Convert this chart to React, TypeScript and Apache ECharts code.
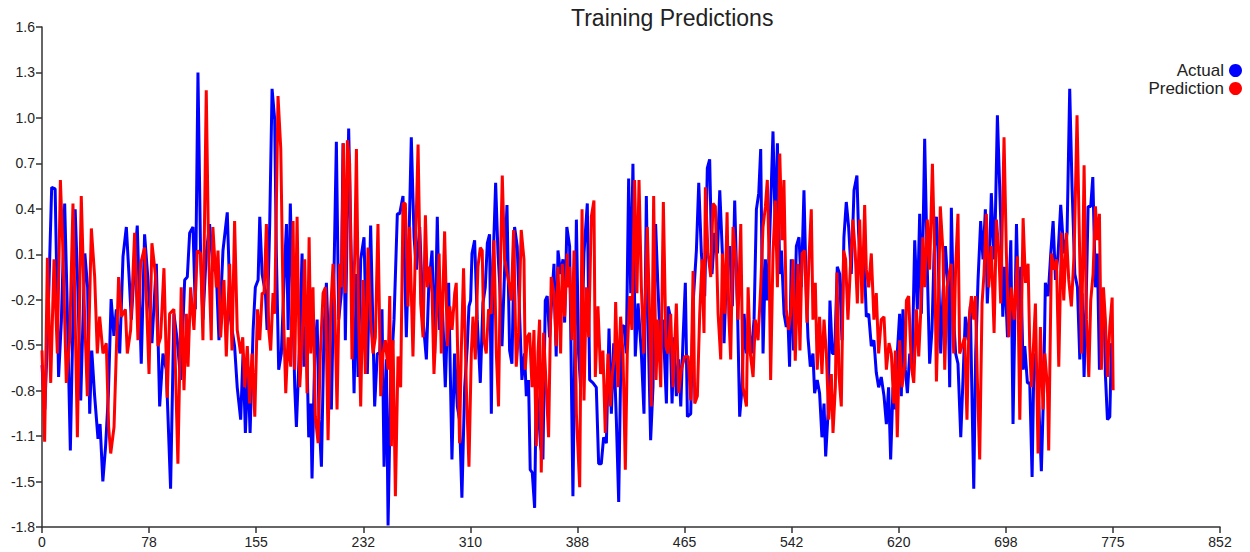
import { useEffect, useRef } from "react";
import * as echarts from "echarts";

const xTickLabels = ["0", "78", "155", "232", "310", "388", "465", "542", "620", "698", "775", "852"];
const yTickLabels = ["-1.8", "-1.5", "-1.1", "-0.8", "-0.5", "-0.2", "0.1", "0.4", "0.7", "1.0", "1.3", "1.6"];
const X_MIN = 0;
const X_MAX = 852;
const Y_MIN = -1.8;
const Y_MAX = 1.6;
const seriesNames = ["Actual", "Prediction"];

const actualPoints: [number, number][] = [
  [0, -0.7], [2, -1.0], [4, -0.5], [7, 0.51], [9.5, 0.5], [12, -0.78], [14, -0.4], [16.4, 0.4], [18, -0.2], [20.5, -1.28],
  [24, 0.36], [26, -0.2], [28, -0.94], [31, 0.06], [33, -0.17], [34.5, -1.03], [36, -0.6], [38, -0.9], [40.5, -1.2], [42, -1.1],
  [44, -1.49], [46, -1.25], [48, -0.9], [50, -0.25], [52, -0.5], [53.8, -0.32], [56.2, -0.62], [58.6, 0.04], [61, 0.24], [63, -0.1],
  [64.6, -0.39], [67, 0.0], [68.9, 0.25], [71.8, -0.69], [74.2, 0.19], [76.5, -0.1], [79.5, -0.55], [82.7, -0.01], [85.1, -0.98], [87.5, -0.62],
  [89.9, -0.73], [93, -1.54], [95.4, -0.35], [97.8, -0.53], [100.3, -0.8], [103.2, -0.12], [105.1, -0.1], [106.8, 0.2], [109.2, 0.24], [110.9, -0.32],
  [112.8, 1.29], [114.7, 0.06], [116.4, -0.39], [118.8, 0.06], [121.2, 0.26], [123.6, -0.03], [126.1, -0.08], [128, -0.53], [130.9, 0.08], [134, 0.34],
  [136.4, -0.39], [139.3, -0.57], [141.2, -0.85], [143.7, -1.07], [145.4, -0.62], [147.1, -1.16], [149, -0.71], [150.5, -1.16], [152.7, -0.46], [154.3, -0.17],
  [156.3, -0.12], [157.5, 0.31], [159.2, -0.08], [161.6, -0.21], [162.8, -0.46], [164.7, 0.26], [166.4, 1.18], [168.3, 0.97], [169.5, 0.06], [171.2, -0.73],
  [173.1, -0.62], [175.1, -0.12], [176.8, 0.26], [178, -0.46], [179.6, 0.4], [181.1, -0.17], [182.8, -0.85], [184, -1.12], [186.4, -0.53], [188.1, 0.06],
  [189.5, -0.71], [191.2, -0.44], [192.9, -1.19], [194.4, -0.96], [195.3, -1.47], [197.3, -0.62], [199, -0.39], [200.4, -1.07], [202.1, -1.39], [204, -0.46],
  [205.7, -0.14], [207.4, -0.62], [209.3, -1.0], [211, -0.17], [212.9, 0.82], [214.6, -0.39], [216.5, -0.21], [217.7, 0.81], [219.4, -0.53], [221.8, 0.91],
  [223.7, 0.02], [225.7, -0.89], [227.4, -0.08], [228.6, -0.78], [230.5, 0.02], [232.9, 0.17], [235.3, -0.76], [237.7, 0.25], [240.6, -0.98], [242.5, -0.62],
  [244.2, -0.62], [245.9, -0.32], [247.4, -1.39], [249.1, -0.66], [250.3, -1.79], [252.2, -0.8], [254.6, -0.39], [257, 0.33], [258.7, 0.33], [261.1, 0.45],
  [263.5, -0.51], [265.2, 0.06], [267.1, 0.85], [269.1, 0.17], [270.8, -0.05], [273.2, 0.24], [275.6, -0.39], [278, -0.66], [279.7, -0.17], [282.1, 0.08],
  [284, -0.62], [285.9, 0.31], [287.6, -0.46], [289.3, -0.23], [291.7, -0.85], [294.1, -0.14], [296.5, -1.34], [298.4, -0.62], [300.4, -0.98], [302, -1.07],
  [303.7, -1.6], [305.7, -0.85], [307.6, -0.57], [308.8, -0.3], [310, -0.26], [311, 0.06], [312.9, 0.15], [314.8, -0.39], [317, -0.82], [318.9, -0.28],
  [320.6, -0.17], [322.1, 0.13], [323.7, 0.19], [325, -1.03], [326.1, -0.05], [328.1, 0.54], [329.8, 0.06], [331, -0.14], [332.7, -0.57], [334.6, -0.05],
  [336.3, 0.39], [338.2, -0.6], [339.9, -0.69], [341.8, 0.24], [343.7, 0.11], [345.4, -0.35], [347.1, -0.8], [349, -0.62], [350.3, -0.91], [351.9, -0.8],
  [353.1, -1.41], [354.6, -1.43], [356.3, -1.67], [357.5, -0.85], [359.2, -1.03], [360.6, -1.25], [362.3, -1.34], [364, -0.26], [365.4, -0.23], [367.1, -0.51],
  [368.8, -0.23], [370.3, -0.01], [371.9, -0.64], [373.2, 0.08], [375.1, -0.08], [376.8, 0.02], [378, -0.41], [379.6, 0.24], [381.6, 0.11], [384, -1.59],
  [386.5, 0.29], [388.1, -0.62], [389.6, -0.85], [392, 0.06], [394.4, 0.4], [396.1, -0.8], [398.5, -0.82], [400.9, -0.85], [402.6, -1.37], [404.5, -1.37],
  [406.2, -1.19], [408.2, -1.23], [410.1, -0.45], [411.8, -1.03], [413.5, -0.55], [415.4, -1.07], [417.1, -1.63], [419, -0.44], [420.9, -0.43], [422.6, -0.62],
  [424.3, 0.57], [425.8, -0.21], [427.4, 0.67], [429.1, -0.64], [431.1, -0.28], [433.5, -0.62], [435.4, -1.03], [437.1, 0.45], [438.8, -0.62], [440.2, -1.21],
  [441.9, -0.85], [443.8, 0.26], [445.5, -0.17], [447.5, -0.62], [449.1, -0.39], [451.6, -0.96], [452.8, -0.3], [454, -0.35], [455.7, -0.96], [457.1, -0.51],
  [458.8, -0.91], [460.5, -0.66], [462, -0.98], [463.6, -0.53], [465.3, -0.14], [466.8, -1.05], [469.2, -1.03], [470.9, -0.28], [473.3, 0.08], [475, 0.54],
  [476.9, 0.06], [479.3, -0.23], [481.2, 0.64], [482.9, 0.7], [484.6, -0.08], [486.5, 0.2], [488.5, 0.06], [490.2, 0.49], [492.1, 0.06], [493.3, -0.55],
  [495, -0.08], [497.4, 0.11], [499.3, -0.3], [501, 0.42], [503, -0.3], [504.6, -1.05], [506.3, -0.85], [507.8, -0.35], [509.5, -0.62], [511.1, -0.44],
  [513.1, -0.62], [515, -0.39], [516.7, 0.36], [518.4, 0.47], [519.8, 0.77], [521.5, -0.62], [523.2, 0.02], [524.6, -0.26], [526.3, 0.17], [528.7, 0.89],
  [530.4, 0.2], [531.9, 0.81], [533.6, -0.08], [534.8, 0.08], [536.7, -0.35], [538.3, -0.44], [539.5, -0.39], [540.7, -0.71], [541.9, 0.02], [543.6, -0.6],
  [545.6, 0.11], [547.5, 0.17], [549.2, -0.17], [551.1, 0.49], [552.8, -0.21], [554, -0.51], [555.7, -0.71], [557.6, -0.62], [558.8, -0.89], [560.7, -0.8],
  [562.4, -0.89], [564.1, -1.19], [565.6, -0.96], [566.8, -1.32], [568.5, -1.03], [569.9, -0.26], [571.6, -0.62], [573.3, -0.62], [575.2, -0.03], [576.9, -0.08],
  [578.6, -0.53], [580, 0.17], [581.7, 0.41], [583.4, 0.24], [585.3, -0.08], [587.3, 0.49], [589.4, 0.59], [590.6, 0.2], [592.6, -0.08], [594.5, 0.06],
  [596.2, -0.37], [597.9, -0.35], [599.8, -0.57], [601.7, -0.53], [603.4, -0.75], [605.1, -0.85], [607, -0.78], [609, -0.91], [610.7, -1.1], [612.3, -0.85],
  [613.8, -1.34], [615.5, -0.85], [616.7, -1.0], [618.6, -0.62], [620.3, -0.35], [621.5, -0.91], [622.7, -0.32], [624.4, -0.73], [625.9, -0.89], [627.6, -0.62],
  [629.3, -0.71], [631.2, 0.15], [633.1, -0.32], [634.8, 0.33], [636, -0.35], [637.2, 0.17], [638.4, 0.84], [640.3, -0.05], [642, -0.69], [643.7, -0.46],
  [645.2, 0.06], [646.9, 0.31], [648.1, 0.06], [650, -0.62], [651.7, -0.21], [653.4, 0.11], [655.3, -0.17], [656.5, -0.85], [657.7, 0.37], [659.4, -0.39],
  [660.8, -0.62], [662.5, -0.69], [664.5, -1.19], [666.1, -0.8], [667.8, -0.37], [669.8, -0.53], [671.4, -0.3], [672.7, -0.96], [673.9, -1.54], [675.3, -0.62],
  [677, -0.12], [678.9, 0.28], [680.6, 0.02], [682.3, 0.36], [683.7, -0.28], [685.4, 0.06], [686.6, 0.47], [688.6, 0.02], [689.5, 0.29], [691, 1.0],
  [693.4, 0.29], [694.9, -0.37], [696.3, -0.03], [698.3, -0.51], [700.7, 0.15], [702.3, -1.1], [704.8, 0.26], [706.4, -0.39], [707.9, -0.03], [709.6, -0.73],
  [710.8, -0.57], [712.7, -0.82], [714.4, -0.82], [716.1, -1.46], [717.5, -0.62], [719.2, -0.71], [720.9, -0.96], [722.8, -1.42], [724.5, -0.85], [725.7, -0.14],
  [727.7, -0.23], [729.6, 0.06], [731.3, 0.28], [733, -0.12], [734.9, 0.06], [736.8, 0.39], [738.5, 0.15], [739.7, 0.06], [741.4, 0.2], [743.3, 1.18],
  [745, 0.51], [747, -0.08], [748.9, -0.17], [750.6, -0.66], [752.3, -0.21], [753.7, -0.78], [755.4, -0.17], [756.6, 0.38], [758.5, 0.38], [760, 0.58],
  [761.9, -0.17], [763.3, 0.06], [764.8, -0.73], [766.2, -0.39], [768.2, -0.3], [769.1, -0.76], [770.6, -1.07], [772.3, -1.05], [773.5, -0.55], [774.2, -0.62],
];

const predictionPoints: [number, number][] = [
  [0, -0.6], [1.9, -1.22], [3.9, 0.03], [6.3, -0.82], [8.7, 0.02], [11.1, -0.62], [13.3, 0.56], [15.2, 0.06], [17.6, -0.82], [20, -0.53],
  [22.4, 0.4], [25.6, -1.19], [28.4, 0.45], [30.9, -0.39], [32.8, -0.91], [35.7, 0.23], [38.1, -0.1], [40, -0.62], [41.7, -0.37], [44.1, -0.62],
  [46.5, -0.55], [48.2, -1.12], [49.7, -1.3], [52.1, -1.12], [55.4, -0.1], [57.4, -0.37], [60.3, -0.32], [61.7, -0.62], [64.1, -0.46], [67, 0.2],
  [69.4, -0.53], [71.3, -0.01], [74.2, 0.1], [77.4, -0.76], [79.5, 0.13], [82, -0.08], [83.9, -0.57], [85.8, -0.51], [88.2, -0.04], [90.6, -0.92],
  [92.3, -0.35], [95.4, -0.32], [98.3, -1.37], [100.7, -0.17], [102.7, -0.87], [104.4, -0.35], [105.6, -0.71], [107.5, -0.17], [109.9, -0.46], [112.3, 0.08],
  [114.7, 0.06], [116.4, -0.53], [118.8, 1.17], [120.5, 0.06], [122.4, -0.53], [123.6, 0.24], [126.1, -0.17], [127.3, 0.08], [129.2, -0.51], [131.6, -0.12],
  [133.3, -0.64], [135.7, -0.01], [137.4, -0.6], [139.3, 0.28], [141.2, -0.46], [143.7, -0.62], [145.2, -0.51], [146.6, -0.85], [148.5, -0.57], [150.2, -0.96],
  [151.9, -0.62], [153.9, -1.05], [155.8, -0.32], [157.5, -0.53], [159.2, -0.21], [160.6, -0.21], [162.3, 0.26], [164, -0.46], [165.4, -0.6], [167.1, -0.21],
  [168.3, -0.35], [170.7, 1.13], [172.7, 0.77], [174.3, -0.23], [176.3, -0.89], [178, -0.51], [179.9, -0.71], [181.6, 0.28], [182.8, -0.73], [184.5, 0.31],
  [186.4, -0.85], [188.1, -0.55], [190, 0.02], [191.7, -0.89], [193.2, 0.17], [194.4, -0.62], [196, -0.17], [197.7, -1.05], [199.7, -1.23], [201.3, -0.62],
  [203.3, -0.21], [205, -0.17], [206.9, -1.21], [208.8, -0.32], [210.5, -0.01], [211.7, -0.3], [213.4, -1.0], [215.3, -0.01], [216.5, -0.17], [218, 0.81],
  [219.4, -0.21], [220.9, 0.83], [222.5, 0.67], [224.2, -0.66], [226.2, 0.06], [227.4, 0.77], [229, -0.39], [230.5, -0.98], [232.2, -0.12], [233.9, -0.76],
  [235.8, 0.1], [237.7, -0.39], [239.4, -0.62], [241.1, -0.51], [243, 0.26], [245, -0.91], [246.6, -0.62], [248.3, -0.53], [250.3, -0.73], [251.5, -0.23],
  [252.7, -1.25], [253.9, -0.53], [255.6, -1.59], [257.5, -0.64], [259.4, -0.85], [261.1, 0.4], [262.8, 0.4], [264.7, -0.3], [265.9, 0.24], [268.3, -0.64],
  [270, 0.06], [272, 0.8], [273.9, -0.28], [275.6, -0.51], [277.3, 0.32], [278.7, -0.17], [280.4, -0.03], [282.1, -0.21], [283.5, -0.76], [285.2, -0.39],
  [287.2, 0.06], [288.8, -0.62], [291.2, 0.21], [293.2, -0.57], [294.9, -0.3], [296.6, -0.46], [298.5, -0.21], [299.6, -0.14], [302, -1.23], [303.2, -0.62],
  [304.9, -0.04], [306.9, -0.85], [308.8, -1.39], [310.5, -0.62], [311.7, -0.37], [313.4, -0.66], [315.3, -0.03], [317, 0.1], [318.4, 0.08], [319.6, -0.53],
  [321.3, -0.62], [323, -0.32], [324.9, -0.35], [326.9, 0.15], [328.6, -0.62], [330.2, -0.98], [331.7, 0.06], [332.9, 0.59], [334.6, 0.02], [336.5, -0.08],
  [338.2, -0.17], [339.4, -0.26], [341.1, 0.22], [343, -0.71], [344.7, -0.48], [346.6, 0.22], [348.6, 0.02], [349.5, -0.73], [351, -0.51], [352.7, -0.48],
  [354.4, -0.85], [355.8, -0.46], [357.5, -1.25], [358.7, -0.62], [359.9, -0.39], [361.1, -1.43], [362.8, -0.48], [364.7, -0.85], [366.4, -1.19], [368.3, -0.1],
  [370.3, -0.21], [371.9, -0.57], [373.2, -0.03], [375.1, -0.62], [376.3, -0.01], [378, -0.37], [379.9, 0.06], [380.4, -0.17], [381.6, -0.03], [383.3, -0.53],
  [384.8, 0.08], [386.5, -1.03], [388.9, -1.53], [390.6, 0.36], [392, -0.94], [393.7, -0.17], [395.4, -0.51], [397.3, 0.31], [399.2, 0.42], [400.2, -0.78],
  [402.1, -0.3], [404, -0.76], [405.7, -0.6], [407.4, -1.16], [409.4, -0.62], [411, -0.98], [412.5, -0.76], [414.2, -0.62], [414.9, -0.27], [416.6, -0.85],
  [418.5, -0.37], [420.2, -0.62], [421.9, -1.41], [423.3, -0.62], [425, -0.23], [426.7, -0.46], [428.6, 0.56], [430.3, -0.21], [431.8, 0.56], [433.5, -0.17],
  [435.2, -0.62], [436.6, -0.17], [437.8, 0.24], [439.5, -0.39], [440.7, -0.98], [442.4, 0.45], [444.1, -0.8], [445.5, -0.39], [447.5, -0.85], [449.4, 0.41],
  [451.3, -0.57], [452.8, -0.62], [454.7, -0.35], [456.4, -0.85], [458.8, -0.28], [460.5, -0.89], [462.4, -0.73], [464.9, -0.64], [467.3, -0.64], [469.2, -0.94],
  [470.9, -0.06], [472.1, -0.96], [474, -0.91], [475.7, -0.35], [477.4, 0.02], [478.8, -0.48], [479.8, 0.51], [481.7, 0.06], [483.7, -0.1], [485.3, 0.4],
  [487, 0.38], [489, -0.35], [490.9, -0.66], [492.1, 0.06], [493.8, -0.35], [495.5, 0.34], [496.7, -0.35], [498.1, -0.66], [499.8, 0.24], [501.5, 0.06],
  [503.4, -0.39], [505.4, 0.26], [507, -0.85], [509.5, -0.98], [510.7, -0.17], [512.3, -0.62], [514.3, -0.78], [515.9, -0.39], [517.9, -0.53], [519.8, -0.17],
  [521.5, 0.24], [523.2, 0.38], [524.6, 0.56], [525.8, 0.06], [527, -0.8], [528.7, 0.06], [530.4, 0.42], [531.9, -0.17], [533.6, 0.74], [535.2, 0.15],
  [536.6, 0.56], [538.3, -0.32], [540, -0.46], [541.5, -0.35], [543.2, 0.02], [544.8, -0.67], [546.8, -0.01], [548.2, -0.6], [549.7, 0.06], [551.6, 0.08],
  [553.3, -0.41], [554.7, 0.02], [556.4, 0.36], [557.6, -0.39], [559.3, -0.14], [560.7, -0.73], [562.4, -0.37], [564.1, -0.76], [565.6, -0.39], [567.3, -0.62],
  [569, -1.07], [570.9, -0.76], [572.1, -1.16], [573.8, -0.85], [575, -0.07], [576.4, -0.76], [578.1, -0.98], [579.8, 0.08], [581.2, 0.02], [582.9, -0.39],
  [584.6, -0.05], [586.5, 0.29], [588.2, 0.06], [589.7, -0.28], [591.4, 0.29], [593.1, -0.28], [595, 0.39], [596.2, -0.05], [597.9, -0.17], [599.8, 0.06],
  [601.7, -0.39], [603.4, -0.21], [605.1, -0.62], [607, -0.39], [609, -0.37], [610.7, -0.73], [612.6, -0.55], [614.3, -0.62], [616, -0.96], [617.2, -0.6],
  [618.6, -1.19], [620.3, -0.53], [622, -0.85], [624, -0.69], [625.2, -0.26], [626.8, -0.23], [628.8, -0.71], [630.5, -0.82], [632.4, -0.32], [634.1, -0.64],
  [635.5, -0.35], [637, 0.17], [638.4, -0.17], [640.3, 0.29], [642, -0.05], [644, 0.67], [645.6, 0.06], [646.9, -0.81], [648.1, -0.39], [649.7, 0.38],
  [651.7, 0.06], [652.9, -0.73], [654.6, -0.17], [656, -0.08], [657.7, -0.01], [659.4, -0.62], [660.8, -0.03], [662.5, 0.33], [663.7, -0.62], [665.4, -0.57],
  [667.3, -0.51], [669, -1.07], [670.5, -0.39], [672.2, -0.23], [673.9, -0.39], [675.1, -0.23], [676.5, -0.8], [678.2, -1.34], [679.9, -0.28], [681.3, -0.08],
  [683, 0.33], [684.7, -0.17], [686.6, 0.11], [688.6, -0.48], [690.3, 0.29], [692, 0.08], [693.4, -0.28], [695.8, 0.85], [697.5, 0.06], [699.2, -0.51],
  [701.1, -0.17], [703.1, -0.39], [705.5, 0.04], [707.2, -1.07], [709.6, 0.3], [711.3, -0.14], [713.2, -0.01], [714.4, -0.57], [715.6, -0.85], [717.1, -0.57],
  [718.5, -0.28], [720.4, -1.3], [722.1, -0.44], [724, -1.0], [725.3, -0.62], [727.2, -0.85], [728.1, -1.28], [730.1, 0.06], [731.8, -0.05], [733.7, 0.02],
  [735.4, -0.71], [737.3, 0.2], [739, -0.26], [740.9, 0.2], [742.6, -0.12], [744.5, -0.3], [746.5, 0.06], [748.6, 1.0], [750.6, 0.02], [751.8, -0.62],
  [753.7, 0.66], [755.4, -0.39], [757.1, -0.78], [758.5, -0.26], [760.2, -0.08], [761.9, 0.38], [763.3, 0.15], [764.8, 0.33], [766.2, -0.73], [767.7, -0.17],
  [769.1, -0.39], [770.6, -0.78], [772.3, -0.44], [774, -0.24], [774.7, -0.87],
];

export default function App() {
  const ref = useRef<HTMLDivElement>(null);

  useEffect(() => {
    if (!ref.current) return;
    const chart = echarts.init(ref.current, null, { renderer: "svg" });
    const xN = xTickLabels.length - 1;
    const yN = yTickLabels.length - 1;
    const xStep = (X_MAX - X_MIN) / xN;
    const yStep = (Y_MAX - Y_MIN) / yN;
    const xTicks = xTickLabels.map((_, i) => (i === xN ? X_MAX : X_MIN + i * xStep));
    const yTicks = yTickLabels.map((_, i) => (i === yN ? Y_MAX : Y_MIN + i * yStep));
    const font = "'Liberation Sans', Arial, sans-serif";
    const axisColor = "#333333";
    const labelColor = "#222222";

    chart.setOption({
      animation: false,
      textStyle: { fontFamily: font },
      title: {
        text: "Training Predictions",
        left: 566,
        top: 1,
        textStyle: { fontFamily: font, fontSize: 23, fontWeight: "normal", color: "#222222" },
      },
      legend: {
        data: seriesNames,
        orient: "vertical",
        right: 8,
        top: 62,
        align: "right",
        icon: "circle",
        itemWidth: 13,
        itemHeight: 13,
        itemGap: 1,
        padding: 0,
        textStyle: { fontFamily: font, fontSize: 17, color: labelColor },
      },
      grid: { left: 42, right: 30, top: 27, bottom: 25, containLabel: false },
      xAxis: {
        type: "value",
        min: X_MIN,
        max: X_MAX,
        splitLine: { show: false },
        axisLine: { show: true, onZero: false, lineStyle: { color: axisColor, width: 1.5 } },
        axisTick: { show: true, length: 6, customValues: xTicks, lineStyle: { color: axisColor, width: 1.5 } },
        axisLabel: {
          customValues: xTicks,
          showMinLabel: true,
          showMaxLabel: true,
          margin: 8,
          fontSize: 14,
          fontFamily: font,
          color: labelColor,
          formatter: (v: number) => xTickLabels[Math.round((v - X_MIN) / xStep)] ?? "",
        },
      },
      yAxis: {
        type: "value",
        min: Y_MIN,
        max: Y_MAX,
        splitLine: { show: false },
        axisLine: { show: true, onZero: false, lineStyle: { color: axisColor, width: 1.5 } },
        axisTick: { show: true, length: 6, customValues: yTicks, lineStyle: { color: axisColor, width: 1.5 } },
        axisLabel: {
          customValues: yTicks,
          showMinLabel: true,
          showMaxLabel: true,
          margin: 7,
          fontSize: 14,
          fontFamily: font,
          color: labelColor,
          formatter: (v: number) => yTickLabels[Math.round((v - Y_MIN) / yStep)] ?? "",
        },
      },
      series: [
        {
          name: seriesNames[0],
          type: "line",
          data: actualPoints,
          showSymbol: false,
          symbol: "none",
          color: "#0000ff",
          lineStyle: { color: "#0000ff", width: 3 },
          z: 2,
        },
        {
          name: seriesNames[1],
          type: "line",
          data: predictionPoints,
          showSymbol: false,
          symbol: "none",
          color: "#ff0000",
          lineStyle: { color: "#ff0000", width: 3 },
          z: 3,
        },
      ],
    });

    return () => chart.dispose();
  }, []);

  return (
    <div
      ref={ref}
      style={{ position: "absolute", left: 0, top: 0, width: 1250, height: 552 }}
    />
  );
}
